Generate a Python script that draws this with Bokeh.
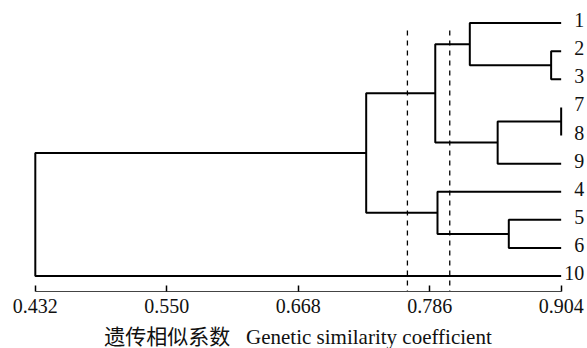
from bokeh.plotting import figure
from bokeh.models import Range1d, FixedTicker, PrintfTickFormatter
from bokeh.core.properties import value
from bokeh.embed import file_html
from bokeh.resources import INLINE

# ---- data ----
leaves = ["1", "2", "3", "7", "8", "9", "4", "5", "6", "10"]
merge_left = ["2", "1", "7", "m2", "m1", "5", "4", "m4", "m7"]
merge_right = ["3", "m0", "8", "9", "m3", "6", "m5", "m6", "10"]
merge_sim = [0.895, 0.822, 0.904, 0.847, 0.791, 0.857, 0.793, 0.729, 0.432]
thresholds = [0.766, 0.804]
tick_values = [0.432, 0.550, 0.668, 0.786, 0.904]
leaf_sim = 0.904

# ---- tree geometry from data ----
pos = {name: (leaf_sim, i) for i, name in enumerate(leaves)}
xs, ys = [], []
for k, (a, b, s) in enumerate(zip(merge_left, merge_right, merge_sim)):
    ax, ay = pos[a]
    bx, by = pos[b]
    xs.append([ax, s, s, bx])
    ys.append([ay, ay, by, by])
    pos["m%d" % k] = (s, (ay + by) / 2.0)

y_bottom, y_top = 9.55, -0.52

p = figure(frame_width=579, frame_height=283, output_backend="svg",
           toolbar_location=None,
           x_range=Range1d(0.40794, 0.92764), y_range=Range1d(y_bottom, y_top),
           min_border_left=8, min_border_right=0, min_border_top=8,
           min_border_bottom=0)
p.outline_line_color = None
p.xgrid.visible = False
p.ygrid.visible = False
p.yaxis.visible = False
p.background_fill_color = "white"
p.border_fill_color = "white"

p.multi_line(xs, ys, line_color="black", line_width=2)

p.segment(x0=thresholds, y0=[0.26] * len(thresholds), x1=thresholds,
          y1=[y_bottom] * len(thresholds), line_color="black",
          line_width=1.3, line_dash="5 5")

p.text(x=[pos[l][0] for l in leaves], y=[pos[l][1] for l in leaves], text=leaves,
       x_offset=23, y_offset=-3, text_align="right", text_baseline="middle",
       text_font=value("Liberation Serif"), text_font_size="20px",
       text_color="#111111")

ax = p.xaxis[0]
ax.ticker = FixedTicker(ticks=tick_values, minor_ticks=[])
ax.formatter = PrintfTickFormatter(format="%.3f")
ax.bounds = (0.432, 0.904)
ax.axis_line_color = "#444444"
ax.axis_line_width = 1
ax.major_tick_in = 6
ax.major_tick_out = 0
ax.major_tick_line_width = 1.5
ax.major_tick_line_color = "black"
ax.minor_tick_line_color = None
ax.major_label_text_font = "Liberation Serif"
ax.major_label_text_font_size = "20px"
ax.major_label_text_color = "#111111"
ax.major_label_standoff = 7
ax.axis_label = "遗传相似系数\u2002 Genetic similarity coefficient"
ax.axis_label_text_font = "'Liberation Serif', 'Noto Sans CJK SC'"
ax.axis_label_text_font_size = "21px"
ax.axis_label_text_font_style = "normal"
ax.axis_label_text_color = "#111111"
ax.axis_label_standoff = 9

open("out.html", "w").write(file_html(p, INLINE))
